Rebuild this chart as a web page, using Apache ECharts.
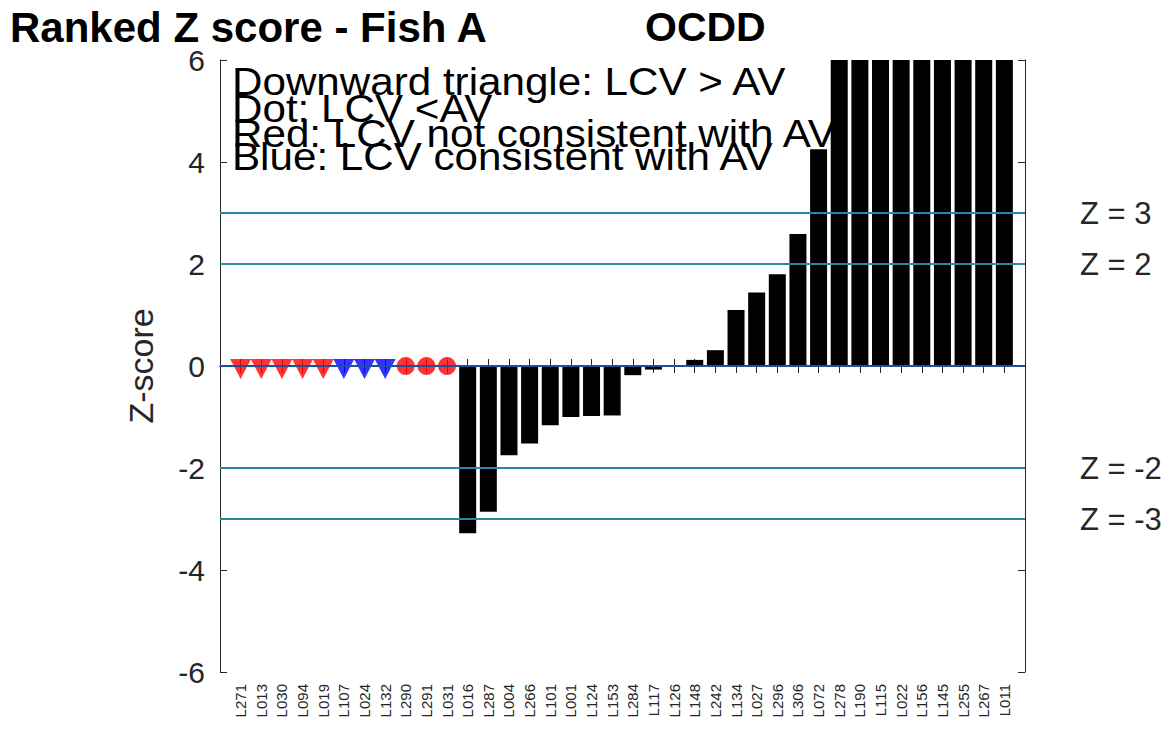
<!DOCTYPE html>
<html><head><meta charset="utf-8">
<script src="https://cdn.jsdelivr.net/npm/echarts@6/dist/echarts.min.js"></script>
<style>html,body{margin:0;padding:0;background:#fff}#c{width:1174px;height:730px}</style>
</head><body><div id="c"></div>
<script>
// Lab codes in ranked order
const labs = ['L271','L013','L030','L094','L019','L107','L024','L132','L290','L291','L031',
  'L016','L287','L004','L266','L101','L001','L124','L153','L284','L117','L126','L148','L242',
  'L134','L027','L296','L306','L072','L278','L190','L115','L022','L156','L145','L255','L267','L011'];
// Z-scores (null = less-than value, shown as marker at 0); values above 6 are clipped in the plot
const zScores = [null,null,null,null,null,null,null,null,null,null,null,
  -3.28,-2.86,-1.75,-1.52,-1.16,-1.00,-0.98,-0.97,-0.18,-0.07,-0.02,0.12,0.31,
  1.10,1.44,1.80,2.59,4.25,6.8,7.6,8.4,9.3,10.5,12.1,14.8,19.6,27.3];
// Less-than-value markers for the first labs
const lcvShapes = ['tri','tri','tri','tri','tri','tri','tri','tri','dot','dot','dot'];
const lcvColors = ['red','red','red','red','red','blue','blue','blue','red','red','red'];
const refLines = [3, 2, -2, -3];
const yTickVals = [-6,-4,-2,0,2,4,6];

const axisColor = '#262626';
const lineColor = '#2c86a8';
const FONT = '"Liberation Sans", Arial, Helvetica, sans-serif';

const colorMap = {red:'#ff0000', blue:'#0000ff'};
function markerData(shape, color){
  const out = [];
  lcvShapes.forEach((s,i)=>{ if(s===shape && lcvColors[i]===color) out.push([i+1, 0]); });
  return out;
}

const chart = echarts.init(document.getElementById('c'), null, {renderer:'svg'});
const xCommon = {
  type:'value', min:0, max:labs.length+1, interval:1,
  axisLine:{show:true, lineStyle:{color:axisColor, width:1}},
  axisTick:{show:true, inside:true, length:7, lineStyle:{color:axisColor}},
  splitLine:{show:false}
};
const yCommon = {
  type:'value', min:-6, max:6, interval:2,
  axisLine:{show:true, onZero:false, lineStyle:{color:axisColor, width:1}},
  axisTick:{show:true, inside:true, length:7, lineStyle:{color:axisColor}},
  splitLine:{show:false}
};

const legendLines = ['Downward triangle: LCV > AV','Dot: LCV <AV','Red: LCV not consistent with AV','Blue: LCV consistent with AV'];
const legendY = [82, 109, 134, 157];

const option = {
  backgroundColor:'#ffffff',
  animation:false,
  grid:{left:220, right:149, top:60, bottom:58, containLabel:false},
  xAxis:[
    Object.assign({}, xCommon, {
      position:'bottom',
      axisLabel:{show:true, rotate:90, fontSize:15, color:axisColor, fontFamily:FONT, margin:12,
        formatter:v => labs[v-1] || ''}
    }),
    Object.assign({}, xCommon, {position:'top', axisLabel:{show:false}})
  ],
  yAxis:[
    Object.assign({}, yCommon, {
      position:'left',
      name:'Z-score', nameLocation:'middle', nameGap:62,
      nameTextStyle:{fontSize:34, color:axisColor, fontFamily:FONT},
      axisLabel:{show:true, fontSize:30, lineHeight:22, padding:[8,0,0,0], color:axisColor, fontFamily:FONT, margin:15,
        formatter:v => (yTickVals.indexOf(v) >= 0 ? String(v) : '')}
    }),
    Object.assign({}, yCommon, {position:'right', axisLabel:{show:false}})
  ],
  graphic:[
    {type:'text', x:10, y:27, z:1, style:{text:'Ranked Z score - Fish A', font:'bold 42px ' + FONT, fill:'#000', verticalAlign:'middle'}},
    {type:'text', x:645, y:27, z:1, style:{text:'OCDD', font:'bold 41px ' + FONT, fill:'#000', verticalAlign:'middle'}}
  ].concat(legendLines.map((t,i)=>({
    type:'text', x:232, y:legendY[i], scaleX:1.11, z:1,
    style:{text:t, font:'38px ' + FONT, fill:'#000', verticalAlign:'middle'}
  }))),
  series:[
    {
      type:'bar', xAxisIndex:0, yAxisIndex:0, z:3,
      barWidth:17, clip:true,
      itemStyle:{color:'#000000', borderColor:'#000000', borderWidth:0},
      data: zScores.map((v,i)=> v===null ? null : [i+1, v])
    },
    {
      type:'scatter', z:4, symbol:'triangle', symbolRotate:180, symbolSize:[21,20], symbolOffset:[0,3],
      itemStyle:{color:colorMap.red}, data: markerData('tri','red')
    },
    {
      type:'scatter', z:4, symbol:'triangle', symbolRotate:180, symbolSize:[21,20], symbolOffset:[0,3],
      itemStyle:{color:colorMap.blue}, data: markerData('tri','blue')
    },
    {
      type:'scatter', z:4, symbol:'circle', symbolSize:18,
      itemStyle:{color:colorMap.red}, data: markerData('dot','red')
    },
    {
      type:'line', z:6, data:[], silent:true,
      markLine:{
        silent:true, symbol:'none', animation:false,
        lineStyle:{color:lineColor, width:2, type:'solid'},
        label:{show:true, position:'end', distance:55, fontSize:31, color:axisColor, fontFamily:FONT,
          formatter:p => 'Z = ' + p.value},
        data: refLines.map(v => ({yAxis:v}))
      }
    },
    {
      type:'line', z:7, data:[], silent:true,
      markLine:{
        silent:true, symbol:'none', animation:false,
        lineStyle:{color:'#1f4e9a', width:2, type:'solid'},
        label:{show:false},
        data:[{yAxis:0}]
      }
    }
  ]
};
chart.setOption(option);
</script>
</body></html>
